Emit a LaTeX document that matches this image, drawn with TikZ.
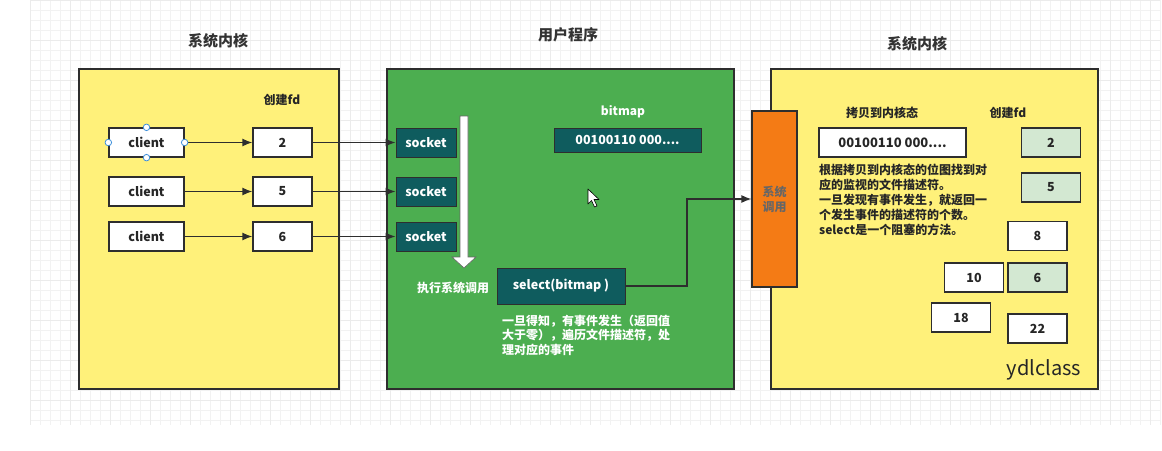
\documentclass[tikz,border=0pt]{standalone}
\usepackage{fontspec}
\setmainfont{Noto Sans CJK SC}
\usetikzlibrary{arrows.meta}
\definecolor{ylw}{HTML}{FFF17A}
\definecolor{grn}{HTML}{4CAE50}
\definecolor{teal}{HTML}{0F5C5E}
\definecolor{org}{HTML}{F47B15}
\definecolor{lgrn}{HTML}{D3E8D2}
\definecolor{bd}{HTML}{2E2E2E}
\definecolor{hdl}{HTML}{3D8FDB}
\tikzset{
  panel/.style={draw=bd, line width=1.3pt},
  wbox/.style={draw=bd, line width=1.3pt, fill=white, inner sep=0pt, minimum width=59, minimum height=29, font=\bfseries\fontsize{12.5}{14}\selectfont, text=black!85},
  gbox/.style={wbox, fill=lgrn},
  tbox/.style={draw=bd, line width=1pt, fill=teal, inner sep=0pt, font=\bfseries\fontsize{12.5}{14}\selectfont, text=white},
  lbl/.style={inner sep=0pt, font=\bfseries\fontsize{12}{14}\selectfont, text=black!85},
  wlbl/.style={lbl, text=white},
  ttl/.style={inner sep=0pt, font=\bfseries\fontsize{15}{18}\selectfont, text=black!80},
  conn/.style={draw=bd, line width=1.3pt, -{Latex[length=10pt,width=8pt]}},
  handle/.style={circle, draw=hdl, fill=white, line width=0.8pt, inner sep=0pt, minimum size=6.5},
  gridminor/.style={black!5, line width=0.6pt},
  gridmajor/.style={black!8, line width=0.7pt},
}
\begin{document}
\begin{tikzpicture}[x=1pt,y=-1pt]
\useasboundingbox (0,0) rectangle (1162,450);
\fill[white] (0,0) rectangle (1162,450);
% faint grid background
\foreach \gx in {30,40,...,1160} \draw[gridminor] (\gx,0) -- (\gx,425);
\foreach \gy in {0,10,...,420} \draw[gridminor] (30,\gy) -- (1160,\gy);
\foreach \gx in {30,70,...,1160} \draw[gridmajor] (\gx,0) -- (\gx,425);
\foreach \gy in {0,40,...,420} \draw[gridmajor] (30,\gy) -- (1160,\gy);

% ---------- left panel ----------
\node[ttl] (t1) at (218,41) {系统内核};
\draw[panel, fill=ylw] (79,69) rectangle (339,389);
\node[lbl] (fdl) at (282,100) {创建fd};
\node[wbox, minimum width=75] (c1) at (146.5,142.5) {client};
\node[wbox, minimum width=75] (c2) at (146.5,191.5) {client};
\node[wbox, minimum width=75] (c3) at (146.5,236.5) {client};
\node[wbox] (f1) at (282.5,142.5) {2};
\node[wbox] (f2) at (282.5,191.5) {5};
\node[wbox] (f3) at (282.5,236.5) {6};
\foreach \a/\b in {c1/f1,c2/f2,c3/f3} \draw[conn] (\a) -- (\b);
\node[handle] (h1) at (c1.north) {};
\node[handle] (h2) at (c1.south) {};
\node[handle] (h3) at (c1.west) {};
\node[handle] (h4) at (c1.east) {};

% ---------- middle panel ----------
\node[ttl] (t2) at (568,35) {用户程序};
\draw[panel, fill=grn] (387,69) rectangle (734,389);
\node[tbox, minimum width=60, minimum height=29] (s1) at (426,142.5) {socket};
\node[tbox, minimum width=60, minimum height=29] (s2) at (426,191.5) {socket};
\node[tbox, minimum width=60, minimum height=29] (s3) at (426,236.5) {socket};
\draw[conn] (f1) -- (s1);
\draw[conn] (f2) -- (s2);
\draw[conn] (f3) -- (s3);
\draw[fill=white, draw=black!60, line width=0.6pt] (460,116) -- (468,116) -- (468,257) -- (476,257) -- (464,268) -- (452,257) -- (460,257) -- cycle;
\node[wlbl] (exe) at (453,288) {执行系统调用};
\node[wlbl] (bml) at (623,112) {bitmap};
\node[tbox, minimum width=147, minimum height=24] (bm) at (627.5,140) {00100110 000....};
\node[tbox, minimum width=128, minimum height=36] (sel) at (561,286) {select(bitmap )};
\node[wlbl, anchor=west] (g1) at (502,321) {一旦得知，有事件发生（返回值};
\node[wlbl, anchor=west] (g2) at (502,335.5) {大于零），遍历文件描述符，处};
\node[wlbl, anchor=west] (g3) at (502,350) {理对应的事件};
% mouse cursor
\draw[fill=white, draw=black, line width=0.6pt, line join=round] (588,189) -- (588,204) -- (591.5,200.5) -- (594.5,207) -- (597,206) -- (594,199.5) -- (599,199.5) -- cycle;

% ---------- right panel ----------
\node[ttl] (t3) at (917,44) {系统内核};
\draw[panel, fill=ylw] (771,69) rectangle (1098,389);
\node[draw=bd, line width=1.2pt, fill=org, minimum width=45, minimum height=176, inner sep=0pt, align=center, font=\bfseries\fontsize{12}{15}\selectfont, text=black!60] (os) at (774.5,199) {系统\\调用};
\coordinate (bend) at (687,199);
\draw[conn] (sel.east) -| (bend) -- (bend -| os.west);
\node[lbl] (cp) at (882,113) {拷贝到内核态};
\node[lbl] (fdr) at (1008,113) {创建fd};
\node[wbox, minimum width=147, font=\bfseries\fontsize{13}{15}\selectfont] (kb) at (892.5,142.5) {00100110 000....};
\node[gbox] (k2) at (1051,142.5) {2};
\node[gbox] (k5) at (1051,187.5) {5};
\node[wbox] (k8) at (1037.5,236) {8};
\node[wbox] (k10) at (974,277.5) {10};
\node[gbox] (k6) at (1037.5,277.5) {6};
\node[wbox] (k18) at (961,317.5) {18};
\node[wbox] (k22) at (1037.5,328.5) {22};
\node[lbl, anchor=west] (p1) at (819,170) {根据拷贝到内核态的位图找到对};
\node[lbl, anchor=west] (p2) at (819,185) {应的监视的文件描述符。};
\node[lbl, anchor=west] (p3) at (819,200) {一旦发现有事件发生，就返回一};
\node[lbl, anchor=west] (p4) at (819,215) {个发生事件的描述符的个数。};
\node[lbl, anchor=west] (p5) at (819,230) {select是一个阻塞的方法。};
\node[inner sep=0pt, font=\fontsize{20}{24}\selectfont, text=black!85] (yd) at (1044,370) {ydlclass};
\end{tikzpicture}
\end{document}
